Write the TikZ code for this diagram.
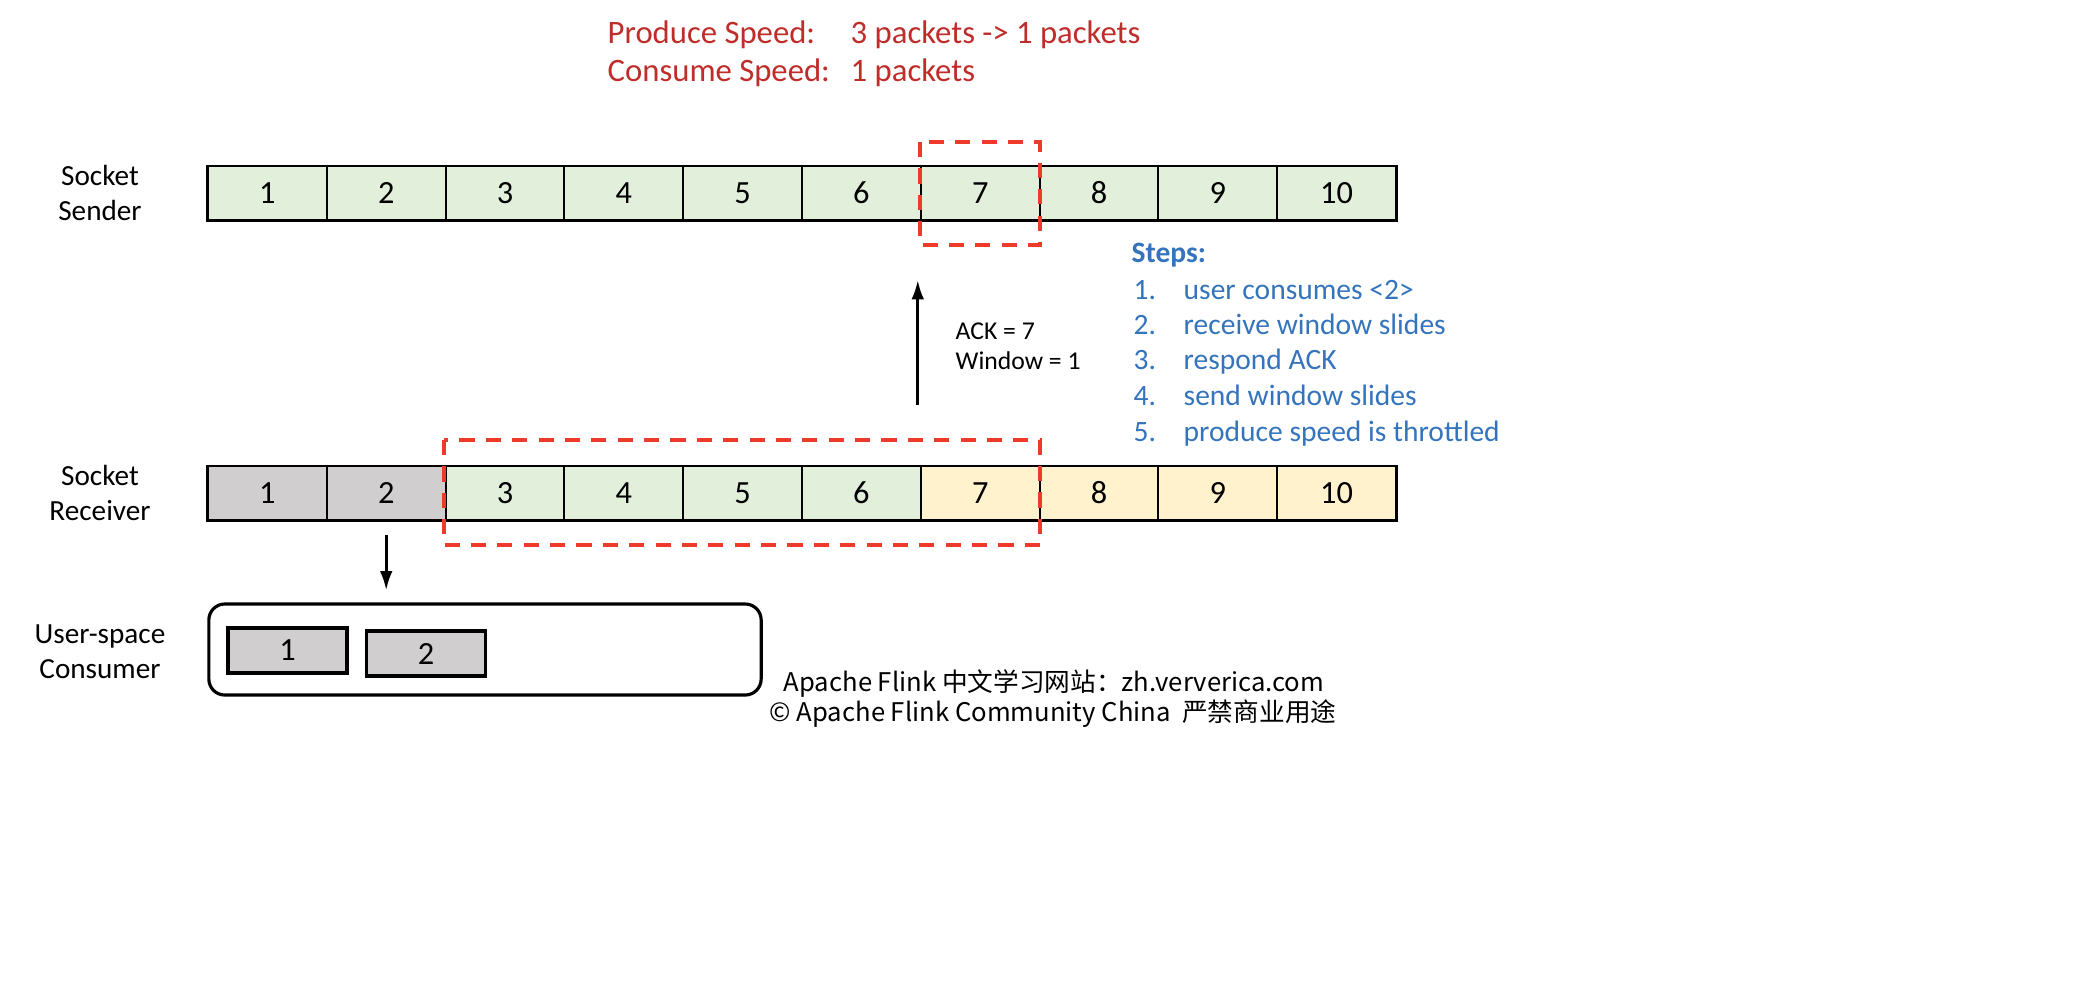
\documentclass[tikz,border=0pt]{standalone}
\usepackage{fontspec}
\setmainfont{Carlito}
\newfontfamily\cjk{Noto Sans CJK SC}
\usetikzlibrary{arrows.meta}

\definecolor{cellgreen}{HTML}{E2EFDA}
\definecolor{cellgray}{HTML}{D0CECE}
\definecolor{cellyellow}{HTML}{FFF2CC}
\definecolor{speedred}{HTML}{BE2D2A}
\definecolor{winred}{HTML}{EE3A2B}
\definecolor{stepblue}{HTML}{3474BC}

\begin{document}
\begin{tikzpicture}[
            x = .01cm, y = -.01cm,
            cell/.style={draw, line width = .55pt, minimum width = 1.188cm, minimum height = .54cm,
                inner sep = 0pt, outer sep = 0pt, font = \fontsize{9.2}{10}\selectfont},
            sent/.style={cell, fill=cellgreen},
            done/.style={cell, fill=cellgray},
            free/.style={cell, fill=cellyellow},
            rowlabel/.style={align=center, font=\fontsize{8.3}{10}\selectfont},
            window/.style={draw=winred, line width = 1.3pt, dash pattern = on 4.3pt off 3.2pt},
            arrow/.style={line width = .8pt, -{Latex[length=5.5pt, width=3.6pt]}},
            speed/.style={anchor=base west, inner sep=0pt, text=speedred, font=\fontsize{9.3}{11}\selectfont},
            stepitem/.style={anchor=base west, inner sep=0pt, text=stepblue, font=\fontsize{8.4}{10}\selectfont},
            ]
        \useasboundingbox (0,0) rectangle (2076,990);

        % produce / consume speed
        \node[speed] (prod) at (607,43) {Produce Speed:};
        \node[speed] (prodval) at (850,43) {3 packets -> 1 packets};
        \node[speed] (cons) at (607,81) {Consume Speed:};
        \node[speed] (consval) at (850,81) {1 packets};

        % socket sender
        \node[rowlabel] (sender) at (100,193) {Socket\\Sender};
        \node[sent] (s1) at (267.4,193) {1};
        \node[sent] (s2) at (386.2,193) {2};
        \node[sent] (s3) at (505,193) {3};
        \node[sent] (s4) at (623.8,193) {4};
        \node[sent] (s5) at (742.6,193) {5};
        \node[sent] (s6) at (861.4,193) {6};
        \node[sent] (s7) at (980.2,193) {7};
        \node[sent] (s8) at (1099,193) {8};
        \node[sent] (s9) at (1217.8,193) {9};
        \node[sent] (s10) at (1336.6,193) {10};
        \draw[line width = .85pt] (s1.north west) rectangle (s10.south east);

        % socket receiver
        \node[rowlabel] (receiver) at (100,493) {Socket\\Receiver};
        \node[done] (r1) at (267.4,493) {1};
        \node[done] (r2) at (386.2,493) {2};
        \node[sent] (r3) at (505,493) {3};
        \node[sent] (r4) at (623.8,493) {4};
        \node[sent] (r5) at (742.6,493) {5};
        \node[sent] (r6) at (861.4,493) {6};
        \node[free] (r7) at (980.2,493) {7};
        \node[free] (r8) at (1099,493) {8};
        \node[free] (r9) at (1217.8,493) {9};
        \node[free] (r10) at (1336.6,493) {10};
        \draw[line width = .85pt] (r1.north west) rectangle (r10.south east);

        % windows
        \draw[window] (920,142) rectangle (1040,245);
        \draw[window] (444,440) rectangle (1040,545);

        % ack
        \draw[arrow, shorten <= .61cm, shorten >= .6cm] ([xshift=-.03cm]r7.north west) -- ([xshift=-.03cm]s7.south west);
        \node[anchor=west, align=left, inner sep=0pt, font=\fontsize{7.3}{8.6}\selectfont] (ack) at (955,346) {ACK = 7\\Window = 1};

        % steps
        \node[stepitem, font=\fontsize{8.4}{10}\selectfont\bfseries] (steps) at (1131,262) {Steps:};
        \node[stepitem] (n1) at (1133,299) {1.};
        \node[stepitem] (t1) at (1183,299) {user consumes <2>};
        \node[stepitem] (n2) at (1133,334) {2.};
        \node[stepitem] (t2) at (1183,334) {receive window slides};
        \node[stepitem] (n3) at (1133,369.5) {3.};
        \node[stepitem] (t3) at (1183,369.5) {respond ACK};
        \node[stepitem] (n4) at (1133,405) {4.};
        \node[stepitem] (t4) at (1183,405) {send window slides};
        \node[stepitem] (n5) at (1133,441) {5.};
        \node[stepitem] (t5) at (1183,441) {produce speed is throttled};

        % user-space consumer
        \node[rowlabel] (userlabel) at (100,652) {User-space\\Consumer};
        \node[draw, line width = .9pt, rounded corners = .16cm, minimum width = 5.52cm, minimum height = .91cm] (consumer) at (485,649.5) {};
        \node[done, line width = .95pt, minimum height = .45cm] (c1) at (287.5,650.5) {1};
        \node[done, line width = .95pt, minimum height = .45cm] (c2) at (426,653.5) {2};
        \draw[arrow, shorten <= .15cm, shorten >= .12cm] (r2.south) -- (r2.south |- consumer.north);

        % footer
        \node[font=\cjk\fontsize{7.3}{8.5}\selectfont] (site) at (1054,684) {Apache Flink 中文学习网站：zh.ververica.com};
        \node[font=\cjk\fontsize{7.3}{8.5}\selectfont] (copyright) at (1053,714) {© Apache Flink Community China \ 严禁商业用途};
    \end{tikzpicture}
\end{document}
